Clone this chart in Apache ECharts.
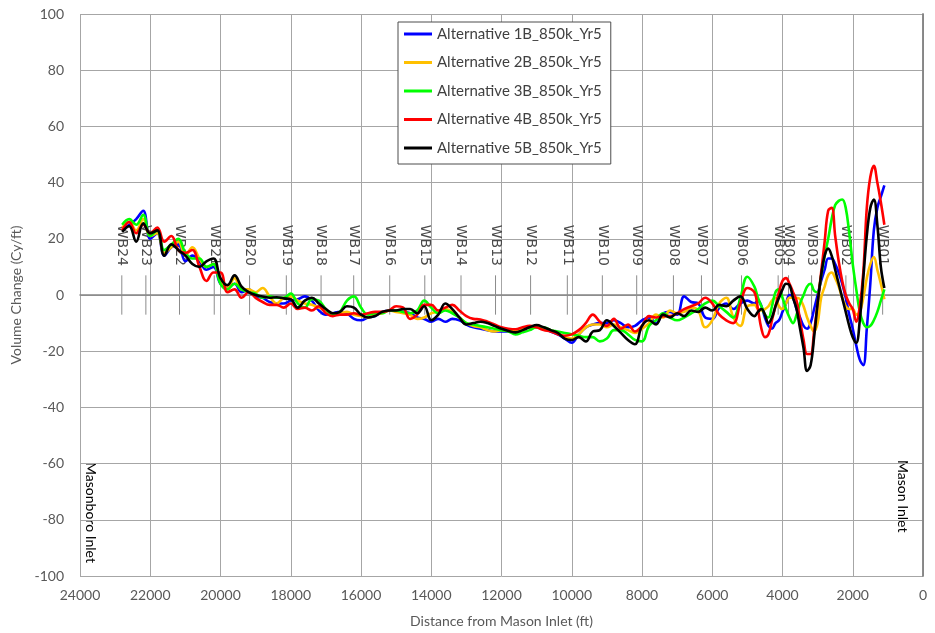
<!DOCTYPE html>
<html>
<head>
<meta charset="utf-8">
<script src="https://cdn.jsdelivr.net/npm/echarts@6/dist/echarts.min.js"></script>
<style>
  html, body { margin: 0; padding: 0; background: #ffffff; }
  #chart { width: 935px; height: 633px; }
</style>
</head>
<body>
<div id="chart"></div>
<script>
// Distance from Mason Inlet (ft) at which each volume change value is sampled
const distances = [
  22800, 22600, 22400, 22200, 22000, 21800, 21600, 21400, 21200, 21000,
  20800, 20600, 20400, 20200, 20000, 19800, 19600, 19400, 19200, 19000,
  18800, 18600, 18400, 18200, 18000, 17800, 17600, 17400, 17200, 17000,
  16800, 16600, 16400, 16200, 16000, 15800, 15600, 15400, 15200, 15000,
  14800, 14600, 14400, 14200, 14000, 13800, 13600, 13400, 13200, 13000,
  12800, 12600, 12400, 12200, 12000, 11800, 11600, 11400, 11200, 11000,
  10800, 10600, 10400, 10200, 10000, 9800, 9600, 9400, 9200, 9000,
  8800, 8600, 8400, 8200, 8000, 7800, 7600, 7400, 7200, 7000,
  6800, 6600, 6400, 6200, 6000, 5800, 5600, 5400, 5200, 5000,
  4800, 4700, 4600, 4500, 4400, 4300, 4200, 4100, 4000, 3900,
  3800, 3700, 3600, 3500, 3400, 3300, 3200, 3100, 3000, 2900,
  2800, 2700, 2600, 2500, 2400, 2300, 2200, 2100, 2000, 1900,
  1800, 1700, 1600, 1500, 1400, 1300, 1200, 1100
];

// Volume change (Cy/ft) for each alternative
const alt1B = [
  23, 25, 27, 30, 20, 22, 14, 17, 18, 12,
  14, 12, 9, 10, 4, 3, 4, 1, 2, -0.5,
  -1, -2.5, -3, -3, -2, -1.5, -0.5, -2, -5.5, -7,
  -6.5, -6, -6.5, -8.5, -9, -8, -7.5, -6, -5.5, -5.5,
  -6, -6.5, -8, -8.5, -9.5, -8.5, -9.5, -8.5, -9, -10.5,
  -11.5, -12, -12.5, -13, -13, -13, -13, -12, -11.5, -11.5,
  -12, -13, -14, -15.5, -17, -14, -11.5, -10.5, -10, -10,
  -9, -10, -11.5, -11, -9, -8, -10, -6.5, -6, -7,
  -0.5, -2.5, -3, -8, -8.5, -4.5, -3, -5, -3, -2,
  -3, -2, -4, -8, -11, -12, -10, -9, -6, -3,
  0, -1, -5, -8, -11, -12, -10, -5, 0, 5,
  9, 13, 13, 11, 8, 4, -1, -7, -12, -18,
  -23, -25, -12, 4, 23, 31, 35, 39
];

const alt2B = [
  24, 26, 23, 27, 21, 22, 15, 17, 19, 14,
  17, 13, 10, 11, 5, 3, 6, 2, 2, 1,
  2.5, -0.5, -3, -1, -0.5, -2, -3, -3.5, -4.5, -5.5,
  -7, -6.5, -6, -7, -7.5, -8, -7, -6.5, -5.5, -6,
  -6.5, -7, -8.5, -8, -6.5, -6, -5, -6, -8, -10,
  -11, -11.5, -12.5, -13, -12.5, -12.8, -12.5, -12, -11.5, -11.5,
  -12, -12.5, -13.5, -15, -15.5, -14, -11.5, -10.5, -10.5, -11.5,
  -10.5, -11.5, -12.5, -13.5, -12, -10, -7, -8, -5.5, -6.5,
  -6, -4.5, -5.5, -11.5, -9, -3, -1, -8, -11, -4,
  -3.5, -5, -5.5, -5, -4, -2, -1, -4, -5, -3,
  -1, -1, -1, -1.5, -4, -8, -11, -13, -10, -1,
  3, 7, 8, 6, 3, -1, -4, -5, -5, -7,
  -6, -1, 6, 11, 13.5, 9, 4, -1.5
];

const alt3B = [
  25, 27, 25, 28.5, 21, 23, 16, 18, 20, 15,
  13, 13, 10, 11, 4, 2, 4, 2, 1, 0.5,
  -1, -0.5, -1, -1, 0.5, -3, -4.5, -1.5, -2, -5,
  -7, -6, -2, -0.5, -4.5, -7, -6.5, -6.5, -5.5, -5.5,
  -6, -6.5, -5.5, -2, -4.5, -6.5, -5.5, -6.5, -8, -10,
  -10.5, -11, -11.5, -12, -12.5, -13, -14, -13.3, -12.5, -11.5,
  -11.5, -12.5, -13, -13.5, -14, -14.5, -15, -15, -16.5, -15.5,
  -12.5, -12.5, -14, -16, -16.5, -11, -9, -6.5, -8, -9,
  -8, -6.5, -5, -3, -2, -4, -6, -8, -1, 6.5,
  3, -1, -4, -7, -8, -4, 1, 2, -1, -5,
  -8, -10, -7, -3, 0, 3, 4, 1.5, 1, 7,
  14, 20, 27, 32, 33.5, 34, 31, 22, 11, 2,
  -6, -10, -11.5, -11, -9, -6, -2, 2
];

const alt4B = [
  23, 26, 22, 25, 22, 24, 19, 21, 16, 15,
  16, 10, 5, 8, 8, 1, 2, -1, 1, -1,
  -2.5, -3.5, -3.5, -4.5, -3, -5, -4.5, -5.5, -4, -6.5,
  -7.5, -7, -7, -6.5, -7, -6.5, -6, -6, -5.5, -4,
  -4.5, -8.5, -7, -3.5, -3.5, -5.5, -4.5, -3.5, -5.5, -7.5,
  -8.5, -8.7, -9.5, -10.5, -11.5, -12, -12.2, -11.5, -11, -11.5,
  -12.5, -13, -14, -14.5, -14, -12.5, -10, -7, -9.5, -11,
  -8.5, -12, -10.5, -13, -11, -7.5, -8, -7.5, -7.5, -6.5,
  -5, -4, -3, -1, -3, -7, -9, -10, -3, 2.5,
  1, -5, -12, -15, -14, -9, -4, 1, 5, 6,
  4, 1, -2, -9, -16, -21, -21, -13, -3, 8,
  19, 30, 31, 21, 12, 5, 0, -3, -5, -9.5,
  -4, 8, 31, 42, 46, 40, 33, 25
];

const alt5B = [
  22.5, 24.5, 19, 25.5, 22, 23, 14, 18, 16, 14,
  11, 10, 12, 13, 6, 3.5, 7, 3, 1, 0,
  -0.5, -1, -0.8, -1.2, -1.5, -4.5, -2, -1, -3, -5,
  -6.5, -6, -4, -4.5, -7, -8, -7.5, -6, -5.5, -5.5,
  -5, -5, -6.5, -4, -9, -7, -3, -5, -8, -10.5,
  -10, -9.5, -10, -11, -12, -12.8, -13.3, -12.5, -11.5, -10.7,
  -11.5, -12.5, -13.5, -15.5, -16, -15, -16.5, -13, -12.5, -9,
  -11, -13.5, -16, -17.5, -11, -9, -10.5, -7, -8, -6.5,
  -7.5, -5.5, -6, -4.5, -5.5, -3.5, -4, -2, -0.5, -5,
  -7.5, -6, -5, -7, -10, -8, -4, -1, 2, 4,
  3.5, -1, -5, -12, -19, -27, -25, -15, -3, 7,
  14, 16.5, 14, 9, 4, -1, -6, -11, -15, -17,
  -9, 6, 21, 31, 34, 25, 10, 2.5
];

const seriesNames = [
  'Alternative 1B_850k_Yr5',
  'Alternative 2B_850k_Yr5',
  'Alternative 3B_850k_Yr5',
  'Alternative 4B_850k_Yr5',
  'Alternative 5B_850k_Yr5'
];
const seriesColors = ['#0000FF', '#FFC000', '#00FF00', '#FF0000', '#000000'];

// Monitoring station names and their distances (ft)
const wbNames = [
  'WB24', 'WB23', 'WB22', 'WB21', 'WB20', 'WB19', 'WB18', 'WB17',
  'WB16', 'WB15', 'WB14', 'WB13', 'WB12', 'WB11', 'WB10', 'WB09',
  'WB08', 'WB07', 'WB06', 'WB05', 'WB04', 'WB03', 'WB02', 'WB01'
];
const wbDistances = [
  22810, 22125, 21167, 20178, 19172, 18126, 17137, 16208,
  15182, 14184, 13153, 12170, 11172, 10126, 9129, 8151,
  7105, 6307, 5167, 4124, 3828, 3172, 2195, 1149
];

const FONT = 'Lato, "Open Sans", sans-serif';
const chart = echarts.init(document.getElementById('chart'));

const valueSets = [alt1B, alt2B, alt3B, alt4B, alt5B];
const lineSeries = valueSets.map(function (vals, k) {
  return {
    name: seriesNames[k],
    type: 'line',
    data: distances.map(function (d, i) { return [d, vals[i]]; }),
    symbol: 'none',
    showSymbol: false,
    smooth: 0.4,
    lineStyle: { color: seriesColors[k], width: 2.6 },
    itemStyle: { color: seriesColors[k] },
    z: 2
  };
});

// Station markers: a short vertical tick and a rotated name above it
const stationSeries = {
  type: 'custom',
  name: 'stations',
  silent: true,
  z: 1,
  data: wbDistances.map(function (d, i) { return [d, i]; }),
  encode: { x: 0, y: 1 },
  renderItem: function (params, api) {
    const d = api.value(0);
    const top = api.coord([d, 7]);
    const bot = api.coord([d, -7]);
    const lab = api.coord([d, 25]);
    return {
      type: 'group',
      children: [
        { type: 'line', shape: { x1: top[0], y1: top[1], x2: bot[0], y2: bot[1] },
          style: { stroke: '#8c8c8c', lineWidth: 1 } },
        { type: 'text', x: lab[0], y: lab[1], rotation: -Math.PI / 2,
          style: { text: wbNames[params.dataIndex], fill: '#4a4a4a',
                   font: '14px "DejaVu Sans", sans-serif', align: 'left', verticalAlign: 'middle' } }
      ]
    };
  }
};

chart.setOption({
  animation: false,
  backgroundColor: '#ffffff',
  grid: { left: 80, right: 12, top: 14, bottom: 56, containLabel: false },
  legend: {
    data: seriesNames,
    orient: 'vertical',
    left: 398,
    top: 22,
    padding: [4, 9, 8, 6],
    itemGap: 12.5,
    itemWidth: 28,
    itemHeight: 3,
    icon: 'rect',
    backgroundColor: '#ffffff',
    borderColor: '#4d4d4d',
    borderWidth: 1,
    textStyle: { color: '#404040', fontFamily: FONT, fontSize: 15, lineHeight: 16 }
  },
  xAxis: {
    type: 'value',
    inverse: true,
    min: 0,
    max: 24000,
    interval: 2000,
    name: 'Distance from Mason Inlet (ft)',
    nameLocation: 'middle',
    nameGap: 38,
    nameTextStyle: { color: '#595959', fontFamily: FONT, fontSize: 14 },
    axisLine: { show: true, lineStyle: { color: '#858585', width: 1.5 } },
    axisTick: { show: false },
    axisLabel: { color: '#595959', fontFamily: FONT, fontSize: 14, margin: 12,
                 formatter: function (v) { return String(v); } },
    splitLine: { show: true, lineStyle: { color: '#a6a6a6', width: 1 } }
  },
  yAxis: [
    {
      type: 'value',
      min: -100,
      max: 100,
      interval: 20,
      name: 'Volume Change (Cy/ft)',
      nameLocation: 'middle',
      nameGap: 50,
      nameRotate: 90,
      nameTextStyle: { color: '#595959', fontFamily: FONT, fontSize: 14 },
      axisLine: { show: true, lineStyle: { color: '#858585', width: 1.5 } },
      axisTick: { show: false },
      axisLabel: { color: '#595959', fontFamily: FONT, fontSize: 14, margin: 16 },
      splitLine: { show: true, lineStyle: { color: '#a6a6a6', width: 1 } }
    },
    {
      type: 'value',
      position: 'right',
      min: -100,
      max: 100,
      interval: 20,
      axisLine: { show: true, lineStyle: { color: '#858585', width: 1.5 } },
      axisTick: { show: false },
      axisLabel: { show: false },
      splitLine: { show: false }
    }
  ],
  graphic: [
    { type: 'text', x: 91, y: 462, rotation: -Math.PI / 2, silent: true,
      style: { text: 'Masonboro Inlet', fill: '#000000', font: '14px ' + FONT,
               align: 'left', verticalAlign: 'middle' } },
    { type: 'text', x: 903, y: 460, rotation: -Math.PI / 2, silent: true,
      style: { text: 'Mason Inlet', fill: '#000000', font: '14px ' + FONT,
               align: 'left', verticalAlign: 'middle' } }
  ],
  series: [stationSeries].concat(lineSeries)
});
</script>
</body>
</html>
